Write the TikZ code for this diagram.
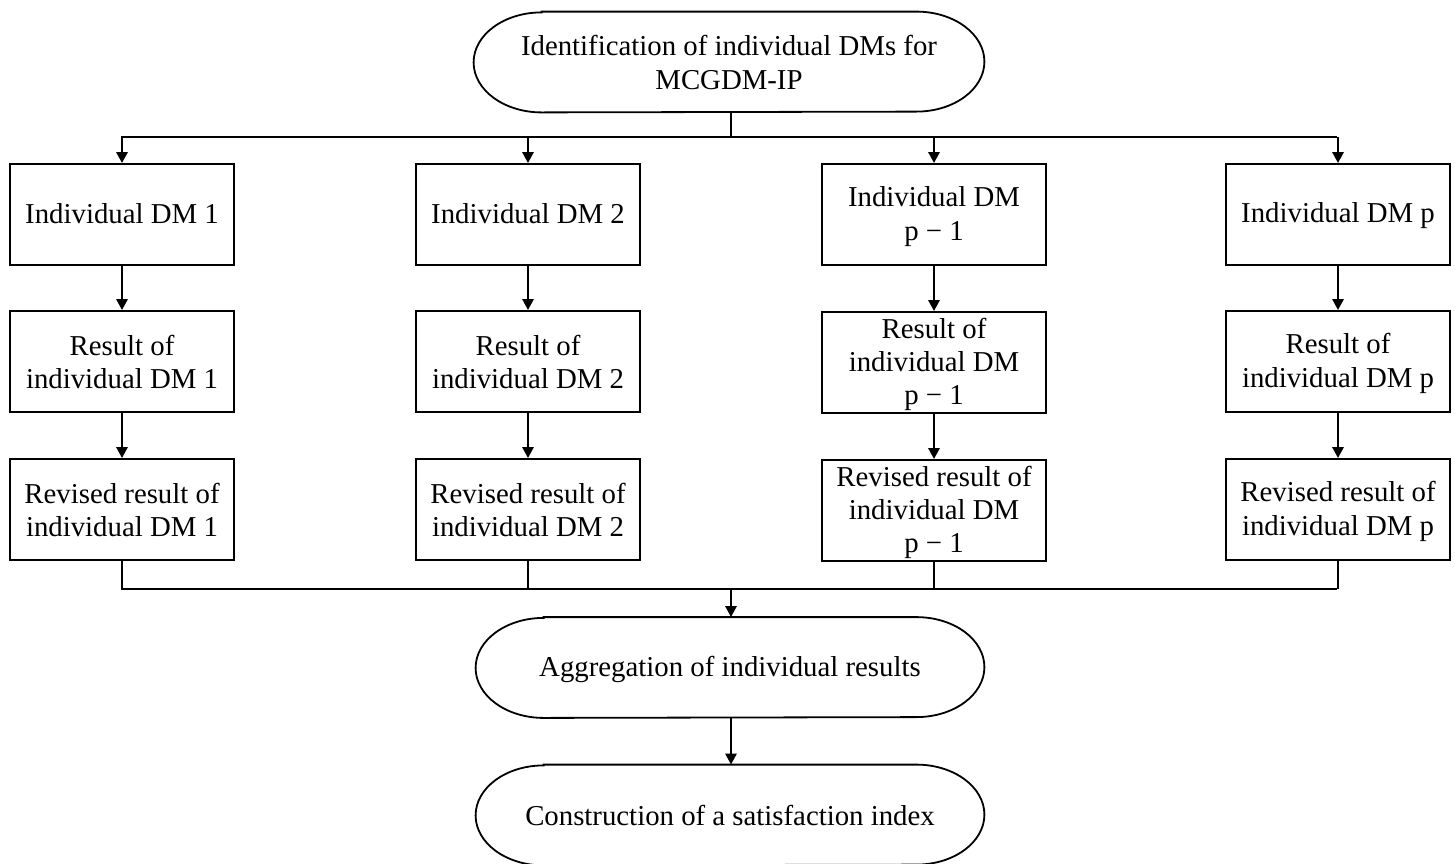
\documentclass[tikz,border=0pt]{standalone}
\usepackage{fontspec}
\setmainfont{Liberation Serif}
\usetikzlibrary{arrows.meta}
\newcommand{\sst}{\rule[-2pt]{0pt}{12.8pt}}
\newcommand{\mst}{\rule[-1.6pt]{0pt}{13.6pt}}
\newcommand{\drawstad}[1]{%
  \draw[line width=0.9pt] ([xshift=34pt]#1.north west) -- ([xshift=-34pt]#1.north east)
    arc[start angle=90,end angle=-90,x radius=34pt,y radius=25pt]
    -- ([xshift=34pt]#1.south west)
    arc[start angle=270,end angle=90,x radius=34pt,y radius=25pt] -- cycle;}
\begin{document}
\begin{tikzpicture}[x=0.5pt,y=-0.5pt,
  lbl/.style={inner sep=0pt, align=center, font=\fontsize{14.4}{16.7}\selectfont},
  box/.style={lbl, draw, line width=0.9pt, minimum width=112pt, minimum height=50.5pt},
  stad/.style={lbl, minimum width=254pt, minimum height=50pt},
  conn/.style={line width=1.4pt},
  arr/.style={conn, -{Triangle[length=5.5pt,width=5.5pt]}}]
\useasboundingbox (0,0) rectangle (1455,863);
\clip (0,0) rectangle (1455,863);
% top
\node[stad, minimum width=255pt] (top) at (729,62) {\mst Identification of individual DMs for\\MCGDM-IP\mst};
\drawstad{top}
% columns
\node[box] (b11) at (122,214.5) {\sst Individual DM 1};
\node[box] (b12) at (122,361.5) {\mst Result of\\individual DM 1\mst};
\node[box] (b13) at (122,509.5) {\mst Revised result of\\individual DM 1\mst};
\node[box] (b21) at (528,214.5) {\sst Individual DM 2};
\node[box] (b22) at (528,361.5) {\mst Result of\\individual DM 2\mst};
\node[box] (b23) at (528,509.5) {\mst Revised result of\\individual DM 2\mst};
\node[box] (b31) at (934,214.5) {\mst Individual DM\\p − 1\mst};
\node[box] (b32) at (934,362.5) {\mst Result of\\individual DM\\p − 1\mst};
\node[box] (b33) at (934,510.5) {\mst Revised result of\\individual DM\\p − 1\mst};
\node[box] (b41) at (1338,214.5) {\sst Individual DM p};
\node[box] (b42) at (1338,361.5) {\mst Result of\\individual DM p\mst};
\node[box] (b43) at (1338,509.5) {\mst Revised result of\\individual DM p\mst};
% bottom
\node[stad] (agg) at (730,667.5) {\mst Aggregation of individual results};
\drawstad{agg}
\node[stad] (con) at (730,815) {\mst Construction of a satisfaction index};
\drawstad{con}
% top connectors
\coordinate (hT) at (731,137);
\coordinate (hL) at (121,137);
\coordinate (hR) at (1337,137);
\draw[conn] (top.south -| hT) -- (hT);
\draw[conn] (hL) -- (hR);
\foreach \c in {b11,b21,b31,b41}{
  \draw[arr] (\c.north |- hT) -- (\c.north);
}
% column arrows
\foreach \c in {1,2,3,4}{
  \draw[arr] (b\c1.south) -- (b\c2.north);
  \draw[arr] (b\c2.south) -- (b\c3.north);
}
% bottom connectors
\coordinate (hB) at (731,589);
\coordinate (hBL) at (121,589);
\coordinate (hBR) at (1337,589);
\foreach \c in {b13,b23,b33,b43}{
  \draw[conn] (\c.south) -- (\c.south |- hB);
}
\draw[conn] (hBL) -- (hBR);
\draw[arr] (hB) -- (agg.north -| hB);
\draw[arr] (agg.south -| hB) -- (con.north -| hB);
\end{tikzpicture}
\end{document}
